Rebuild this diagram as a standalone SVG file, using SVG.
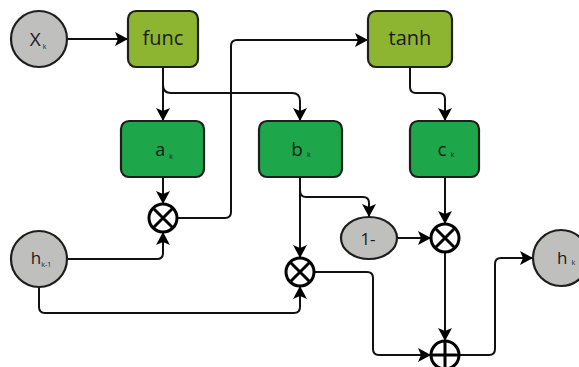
<svg xmlns="http://www.w3.org/2000/svg" width="579" height="367" viewBox="0 0 579 367">
<style>
.c{fill:#bfbfbd;stroke:#1e1e1e;stroke-width:2.2}
.o{fill:#8db531;stroke:#1e1e1e;stroke-width:2.2}
.g{fill:#1ea64a;stroke:#1e1e1e;stroke-width:2.2}
.op{fill:#fff;stroke:#000;stroke-width:3}
.ol{stroke:#000;stroke-width:3}
.e path{fill:none;stroke:#111;stroke-width:2}
text{font-family:"Open Sans","Liberation Sans",sans-serif;fill:#1a1a1a;text-anchor:middle}
.s{font-size:7px}
</style>
<defs>
<marker id="ar" viewBox="0 0 13 14" refX="13" refY="7" markerWidth="13" markerHeight="14" markerUnits="userSpaceOnUse" orient="auto">
<path d="M0,0 L13,7 L0,14 L3,7 z" fill="#000"/>
</marker>
</defs>
<g class="e" id="connectors">
<path d="M67,39 H128" marker-end="url(#ar)"/>
<path d="M163,67 V121" marker-end="url(#ar)"/>
<path d="M163,85 Q163,93 171,93 H292 Q300,93 300,101 V121" marker-end="url(#ar)"/>
<path d="M177,218 H225 Q231,218 231,212 V46 Q231,40 237,40 H368" marker-end="url(#ar)"/>
<path d="M410,67 V87 Q410,93 416,93 H439 Q445,93 445,99 V121" marker-end="url(#ar)"/>
<path d="M163,177 V204" marker-end="url(#ar)"/>
<path d="M67,259 H157 Q163,259 163,253 V232" marker-end="url(#ar)"/>
<path d="M39,287 V307 Q39,313 45,313 H294 Q300,313 300,307 V286" marker-end="url(#ar)"/>
<path d="M300,177 V258" marker-end="url(#ar)"/>
<path d="M300,190 Q300,197 306,197 H363 Q369,197 369,203 V217" marker-end="url(#ar)"/>
<path d="M397,238 H431" marker-end="url(#ar)"/>
<path d="M445,177 V224" marker-end="url(#ar)"/>
<path d="M445,252 V341" marker-end="url(#ar)"/>
<path d="M314,272 H367 Q373,272 373,278 V349 Q373,355 379,355 H431" marker-end="url(#ar)"/>
<path d="M459,355 H489 Q495,355 495,349 V264 Q495,258 501,258 H533" marker-end="url(#ar)"/>
</g>
<g id="xk"><circle class="c" cx="39" cy="39" r="28"/><text x="38" y="46" font-size="19">X<tspan class="s" dx="2" dy="3">k</tspan></text></g>
<g id="func"><rect class="o" x="128" y="11" width="70" height="56" rx="8"/><text x="163" y="45" font-size="20">func</text></g>
<g id="tanh"><rect class="o" x="368" y="11" width="84" height="56" rx="8"/><text x="410" y="45" font-size="20">tanh</text></g>
<g id="ak"><rect class="g" x="121" y="121" width="83" height="56" rx="8"/><text x="164" y="156" font-size="18">a<tspan class="s" dx="4" dy="3">k</tspan></text></g>
<g id="bk"><rect class="g" x="259" y="121" width="83" height="56" rx="8"/><text x="301" y="156" font-size="19">b<tspan class="s" dx="4" dy="1">k</tspan></text></g>
<g id="ck"><rect class="g" x="410" y="121" width="69" height="56" rx="8"/><text x="446" y="156" font-size="19">c<tspan class="s" dx="4" dy="1">k</tspan></text></g>
<g id="hk1"><circle class="c" cx="39" cy="259" r="28"/><text x="41" y="264" font-size="17">h<tspan class="s" dx="0" dy="3">k-1</tspan></text></g>
<g id="hk"><circle class="c" cx="561" cy="258" r="28"/><text x="566" y="264" font-size="17">h<tspan class="s" dx="4" dy="1">k</tspan></text></g>
<g id="one"><ellipse class="c" cx="369" cy="238" rx="28" ry="21"/><text x="368" y="245" font-size="17">1-</text></g>
<g id="mula"><circle class="op" cx="163" cy="218" r="14"/><path class="ol" d="M153,208 L173,228 M173,208 L153,228"/></g>
<g id="mulb"><circle class="op" cx="300" cy="272" r="14"/><path class="ol" d="M290,262 L310,282 M310,262 L290,282"/></g>
<g id="mulc"><circle class="op" cx="445" cy="238" r="14"/><path class="ol" d="M435,228 L455,248 M455,228 L435,248"/></g>
<g id="add"><circle class="op" cx="445" cy="355" r="14"/><path class="ol" d="M445,341 V369 M431,355 H459"/></g>
</svg>
